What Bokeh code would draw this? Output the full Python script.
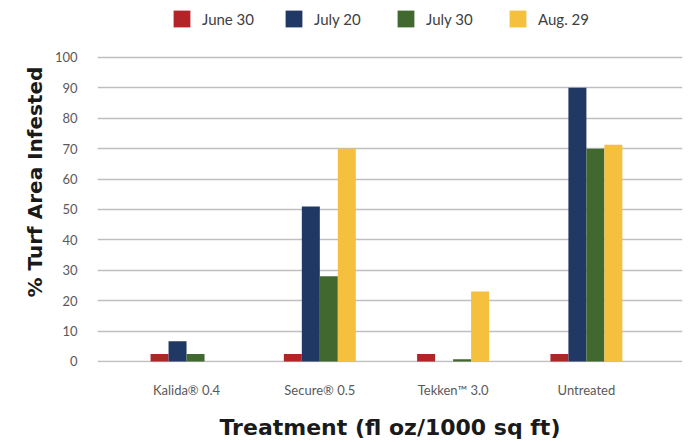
from bokeh.plotting import figure
from bokeh.models import ColumnDataSource, Range1d, FixedTicker, Legend, LegendItem, Title
from bokeh.transform import dodge
from bokeh.embed import file_html
from bokeh.resources import INLINE

categories = ["Kalida® 0.4", "Secure® 0.5", "Tekken™ 3.0", "Untreated"]
series_names = ["June 30", "July 20", "July 30", "Aug. 29"]
june30 = [2.5, 2.5, 2.5, 2.5]
july20 = [6.7, 51.0, 0.0, 90.0]
july30 = [2.5, 28.0, 0.7, 70.0]
aug29 = [0.0, 70.0, 23.0, 71.3]
y_ticks = [0, 10, 20, 30, 40, 50, 60, 70, 80, 90, 100]
colors = ["#B22426", "#203864", "#41682E", "#F5C03E"]
x_title = "Treatment (fl oz/1000 sq ft)"
y_title = "% Turf Area Infested"

FONT = "Lato"
TITLE_FONT = "DejaVu Sans"

src = ColumnDataSource(dict(
    x=list(range(len(categories))),
    june30=june30, july20=july20, july30=july30, aug29=aug29,
))

p = figure(width=688, height=442, output_backend="svg", toolbar_location=None, title=None,
           x_range=Range1d(-0.668, 3.721), y_range=Range1d(-0.33, 118.4),
           min_border_top=1, min_border_bottom=78, min_border_left=97, min_border_right=6)
p.outline_line_color = None
p.background_fill_color = "white"
p.border_fill_color = "white"

bw = 0.135
offsets = [-1.5 * bw, -0.5 * bw, 0.5 * bw, 1.5 * bw]
keys = ["june30", "july20", "july30", "aug29"]
renderers = []
for k, off, c in zip(keys, offsets, colors):
    r = p.vbar(x=dodge("x", off, range=p.x_range), top=k, bottom=0, width=bw,
               source=src, fill_color=c, line_color=None)
    renderers.append(r)

# axes
p.xaxis.ticker = FixedTicker(ticks=list(range(len(categories))))
p.xaxis.major_label_overrides = {i: c for i, c in enumerate(categories)}
p.yaxis.ticker = FixedTicker(ticks=y_ticks)
for ax in (p.xaxis[0], p.yaxis[0]):
    ax.axis_line_color = None
    ax.major_tick_line_color = None
    ax.minor_tick_line_color = None
    ax.major_tick_out = 0
    ax.major_tick_in = 0
    ax.minor_tick_out = 0
    ax.major_label_text_font = FONT
    ax.major_label_text_font_size = "13px"
    ax.major_label_text_color = "#595959"

p.xaxis.axis_label = x_title
p.xaxis.axis_label_text_font = TITLE_FONT
p.xaxis.axis_label_text_font_style = "bold"
p.xaxis.axis_label_text_font_size = "22px"
p.xaxis.axis_label_text_color = "#1a1a1a"
p.xaxis.major_label_standoff = 19
p.xaxis.axis_label_standoff = 14
p.yaxis.major_label_standoff = 20

p.add_layout(Title(text=y_title, align="center", offset=-23, standoff=9,
                   text_font=TITLE_FONT, text_font_style="bold", text_font_size="20px",
                   text_color="#1a1a1a"), "left")

p.xgrid.grid_line_color = None
p.ygrid.grid_line_color = "#bfbfbf"
p.ygrid.grid_line_width = 1.5

legend = Legend(items=[LegendItem(label=n, renderers=[r]) for n, r in zip(series_names, renderers)],
                orientation="horizontal", location=(74, 333),
                glyph_width=21, glyph_height=21, label_standoff=10, spacing=24, label_width=57,
                padding=0, margin=0, border_line_color=None, background_fill_alpha=0,
                label_text_font=FONT, label_text_font_size="15px", label_text_color="#404040")
p.add_layout(legend, "center")

open("out.html", "w").write(file_html(p, INLINE))
